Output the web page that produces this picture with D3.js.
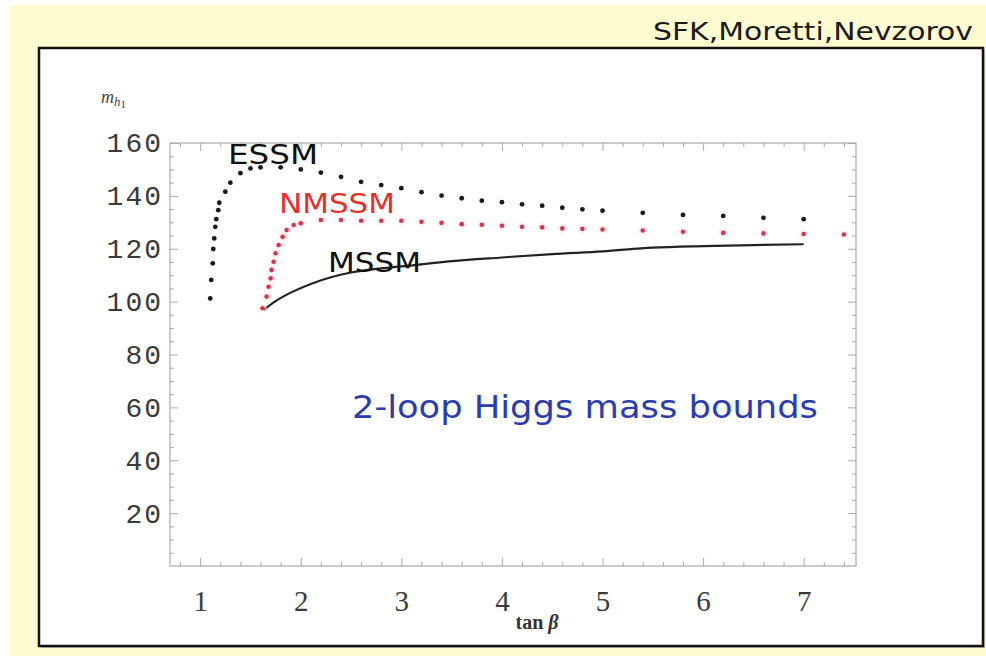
<!DOCTYPE html>
<html><head><meta charset="utf-8">
<script src="https://cdn.jsdelivr.net/npm/d3@7"></script>
<style>html,body{margin:0;padding:0;background:#fff;}svg{display:block;}</style>
</head><body>
<svg id="chart" width="986" height="656"></svg>
<script>
// ---- data ----
const essmTan  = [1.10,1.11,1.125,1.13,1.14,1.15,1.16,1.18,1.19,1.25,1.30,1.40,1.50,1.60,1.80,2.00,2.20,2.40,2.60,2.80,3.00,3.20,3.40,3.60,3.80,4.00,4.20,4.40,4.60,4.80,5.00,5.40,5.80,6.20,6.60,7.00];
const essmMass = [101.2,108.2,114.5,119.9,123.9,128.3,131.2,134.6,137.4,141.6,145.0,148.6,150.4,150.8,150.8,150.0,148.8,147.2,145.3,144.1,142.9,141.4,140.1,139.1,138.2,137.6,136.8,136.3,135.5,134.9,134.4,133.6,132.8,132.4,131.7,131.2];
const nmssmTan  = [1.62,1.66,1.68,1.70,1.71,1.73,1.75,1.78,1.82,1.86,1.93,2.00,2.20,2.40,2.60,2.80,3.00,3.20,3.40,3.60,3.80,4.00,4.20,4.40,4.60,4.80,5.00,5.40,5.80,6.20,6.60,7.00,7.40];
const nmssmMass = [97.5,101.9,105.6,108.8,112.0,115.1,118.3,121.4,124.5,127.1,129.0,129.6,130.9,130.9,130.6,130.6,130.6,130.2,129.8,129.3,129.1,128.7,128.3,128.1,127.7,127.5,127.3,126.9,126.4,126.0,125.8,125.6,125.4];
const mssmTan  = [1.63,1.75,1.90,2.10,2.30,2.50,2.75,3.00,3.50,4.00,4.50,5.00,5.50,6.00,6.50,7.00];
const mssmMass = [96.8,100.2,103.4,106.7,109.2,111.0,112.4,113.3,115.3,116.7,118.0,119.0,120.4,121.0,121.4,121.7];
const xTicks = [1,2,3,4,5,6,7];
const yTicks = [20,40,60,80,100,120,140,160];
const seriesLabels = ["ESSM","NMSSM","MSSM"];
const note = "2-loop Higgs mass bounds";
const credit = "SFK,Moretti,Nevzorov";

// ---- drawing ----
const svg = d3.select("#chart");
svg.append("rect").attr("x",0).attr("y",0).attr("width",986).attr("height",656).attr("fill","#ffffff");
svg.append("rect").attr("x",10).attr("y",5).attr("width",976).attr("height",651).attr("fill","#fffbd0");
svg.append("rect").attr("x",41).attr("y",50).attr("width",944).attr("height",598).attr("fill","#c8c6b0");
svg.append("rect").attr("x",39).attr("y",48).attr("width",944).attr("height",598)
  .attr("fill","#ffffff").attr("stroke","#111").attr("stroke-width",2.5);

svg.append("text").attr("x",653).attr("y",40).text(credit)
  .attr("font-family","DejaVu Sans").attr("font-size",24).attr("fill","#1a1a1a")
  .attr("textLength",320).attr("lengthAdjust","spacingAndGlyphs");

const x = d3.scaleLinear().domain([0.7,7.52]).range([170,856]);
const y = d3.scaleLinear().domain([0,160]).range([566,143]);

const frameCol = "#aaaaaa";
const g = svg.append("g");
g.append("rect").attr("x",x(0.7)).attr("y",y(160)).attr("width",x(7.52)-x(0.7)).attr("height",y(0)-y(160))
  .attr("fill","none").attr("stroke",frameCol).attr("stroke-width",1.2);

const xMinor = d3.range(0.8,7.5,0.2).filter(v=>Math.abs(v-Math.round(v))>0.01);
const yMinor = d3.range(5,160,5).filter(v=>v%20!==0);

function styleAxis(sel){ sel.select(".domain").remove(); sel.selectAll("line").attr("stroke",frameCol); }

const gb = g.append("g").attr("transform",`translate(0,${y(0)})`)
  .call(d3.axisBottom(x).tickValues(xTicks).tickSize(-8).tickPadding(24).tickFormat(d3.format("d")));
styleAxis(gb);
gb.selectAll("text").attr("font-family","Liberation Serif").attr("font-size",29).attr("fill","#3a3a3a");
g.append("g").attr("transform",`translate(0,${y(0)})`)
  .call(d3.axisBottom(x).tickValues(xMinor).tickSize(-4).tickFormat("")).call(styleAxis);
g.append("g").attr("transform",`translate(0,${y(160)})`)
  .call(d3.axisTop(x).tickValues(xTicks).tickSize(-8).tickFormat("")).call(styleAxis);
g.append("g").attr("transform",`translate(0,${y(160)})`)
  .call(d3.axisTop(x).tickValues(xMinor).tickSize(-4).tickFormat("")).call(styleAxis);
const gl = g.append("g").attr("transform",`translate(${x(0.7)},0)`)
  .call(d3.axisLeft(y).tickValues(yTicks).tickSize(-8).tickPadding(7));
styleAxis(gl);
gl.selectAll("text").attr("font-family","Liberation Mono").attr("font-size",28).attr("fill","#3a3a3a")
  .attr("letter-spacing",2);
g.append("g").attr("transform",`translate(${x(0.7)},0)`)
  .call(d3.axisLeft(y).tickValues(yMinor).tickSize(-4).tickFormat("")).call(styleAxis);
g.append("g").attr("transform",`translate(${x(7.52)},0)`)
  .call(d3.axisRight(y).tickValues(yTicks).tickSize(-8).tickFormat("")).call(styleAxis);
g.append("g").attr("transform",`translate(${x(7.52)},0)`)
  .call(d3.axisRight(y).tickValues(yMinor).tickSize(-4).tickFormat("")).call(styleAxis);

const yl = svg.append("text").attr("x",101).attr("y",103).attr("font-family","Liberation Serif")
  .attr("font-style","italic").attr("fill","#444").attr("font-size",18);
yl.append("tspan").text("m");
yl.append("tspan").attr("font-size",13).attr("dy",3).text("h");
yl.append("tspan").attr("font-size",11).attr("font-style","normal").attr("dy",2).text("1");

const xl = svg.append("text").attr("x",537).attr("y",629).attr("text-anchor","middle")
  .attr("font-family","Liberation Serif").attr("font-weight","bold").attr("fill","#333").attr("font-size",20);
xl.append("tspan").text("tan ");
xl.append("tspan").attr("font-style","italic").text("β");

const mssm = mssmTan.map((t,i)=>[t,mssmMass[i]]);
g.append("path").datum(mssm)
  .attr("d",d3.line().x(d=>x(d[0])).y(d=>y(d[1])).curve(d3.curveMonotoneX))
  .attr("fill","none").attr("stroke","#222").attr("stroke-width",2.2);

const nm = nmssmTan.map((t,i)=>[t,nmssmMass[i]]);
g.selectAll(".nmh").data(nm).join("circle").attr("class","nmh")
  .attr("cx",d=>x(d[0])).attr("cy",d=>y(d[1])).attr("r",4.5).attr("fill","#fbe0e6").attr("opacity",0.5);
g.selectAll(".nm").data(nm).join("circle").attr("class","nm")
  .attr("cx",d=>x(d[0])).attr("cy",d=>y(d[1])).attr("r",2.3).attr("fill","#d9344f");

const es = essmTan.map((t,i)=>[t,essmMass[i]]);
g.selectAll(".es").data(es).join("circle").attr("class","es")
  .attr("cx",d=>x(d[0])).attr("cy",d=>y(d[1])).attr("r",2.4).attr("fill","#1a1a1a");

const lab = [
  {t:seriesLabels[0], x:228, y:164, w:90, c:"#111"},
  {t:seriesLabels[1], x:279, y:213, w:116, c:"#e8302c"},
  {t:seriesLabels[2], x:328, y:272, w:93, c:"#111"}
];
svg.selectAll(".lab").data(lab).join("text").attr("class","lab")
  .attr("x",d=>d.x).attr("y",d=>d.y).text(d=>d.t).attr("fill",d=>d.c)
  .attr("font-family","DejaVu Sans").attr("font-size",27)
  .attr("textLength",d=>d.w).attr("lengthAdjust","spacingAndGlyphs");

svg.append("text").attr("x",352).attr("y",418).text(note)
  .attr("font-family","DejaVu Sans").attr("font-size",32).attr("fill","#2a3cb4")
  .attr("textLength",466).attr("lengthAdjust","spacingAndGlyphs");
</script>
</body></html>
